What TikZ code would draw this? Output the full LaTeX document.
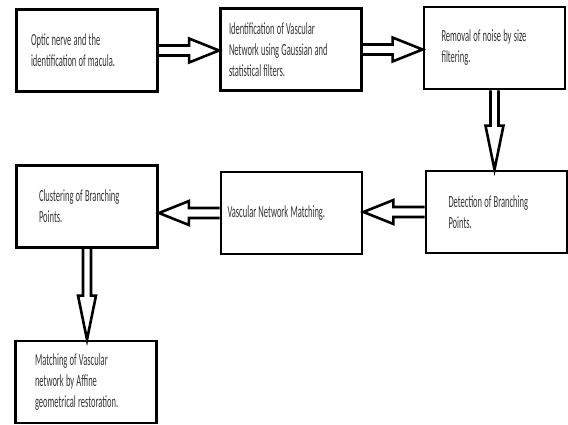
\documentclass[tikz,border=0pt]{standalone}
\usepackage{fontspec}
\newfontfamily\boxfont{Carlito}[FakeStretch=0.5]
\usetikzlibrary{calc}
\hyphenpenalty=10000

\tikzset{
	shaftw/.store in=\shaftw, headw/.store in=\headw, headl/.store in=\headl,
	blockarrow/.style={draw, line width=2.6pt, line join=miter,
			to path={($(\tikztotarget)!\headl!(\tikztostart)$) coordinate (hb)
					($(\tikztostart)!\shaftw!-90:(\tikztotarget)$)
					-- ($(hb)!\shaftw!90:(\tikztostart)$)
					-- ($(hb)!\headw!90:(\tikztostart)$)
					-- (\tikztotarget)
					-- ($(hb)!\headw!-90:(\tikztostart)$)
					-- ($(hb)!\shaftw!-90:(\tikztostart)$)
					-- ($(\tikztostart)!\shaftw!90:(\tikztotarget)$)}},
	harrow/.style={blockarrow, shaftw=5pt, headw=12pt, headl=30pt},
	varrow/.style={blockarrow, shaftw=4pt, headw=9pt, headl=44pt}
}

\begin{document}
\begin{tikzpicture}[x=1pt, y=-1pt,
		stagebox/.style={draw, line width=2.8pt, minimum width=141pt, minimum height=82pt,
				text width=110pt, align=left, text=black!80,
				font=\boxfont\fontsize{17}{21}\selectfont,
				execute at begin node={\spaceskip=2.2pt plus 1pt\relax}}]
	\useasboundingbox (0, 0) rectangle (568, 425);

	% top row
	\node[stagebox, text width=112pt] (optic) at (87, 50.5) {Optic nerve and the\\identification of macula.};
	\node[stagebox, text width=124pt] (vascid) at (291, 49.5) {Identification of Vascular\\Network using Gaussian and\\statistical filters.};
	\node[stagebox, text width=106pt] (noise) at (494.5, 48) {Removal of noise by size\\filtering.};

	% middle row
	\node[stagebox, text width=96pt] (branch) at (496.5, 212) {Detection of Branching\\Points.};
	\node[stagebox, text width=128pt] (vmatch) at (291.5, 213) {Vascular Network Matching.};
	\node[stagebox, text width=96pt] (cluster) at (87, 206.5) {Clustering of Branching\\Points.};

	% bottom
	\node[stagebox, text width=102pt] (affine) at (86, 382) {Matching of Vascular\\network by Affine\\geometrical restoration.};

	\draw[harrow] (optic.east) to (optic.east -| vascid.west);
	\draw[harrow] (vascid.east) to (vascid.east -| noise.west);
	\draw[varrow] (noise.south) to (noise.south |- branch.north);
	\draw[harrow] (branch.west) to (branch.west -| vmatch.east);
	\draw[harrow] (vmatch.west) to (vmatch.west -| cluster.east);
	\draw[varrow] (cluster.south) to (cluster.south |- affine.north);
\end{tikzpicture}
\end{document}
